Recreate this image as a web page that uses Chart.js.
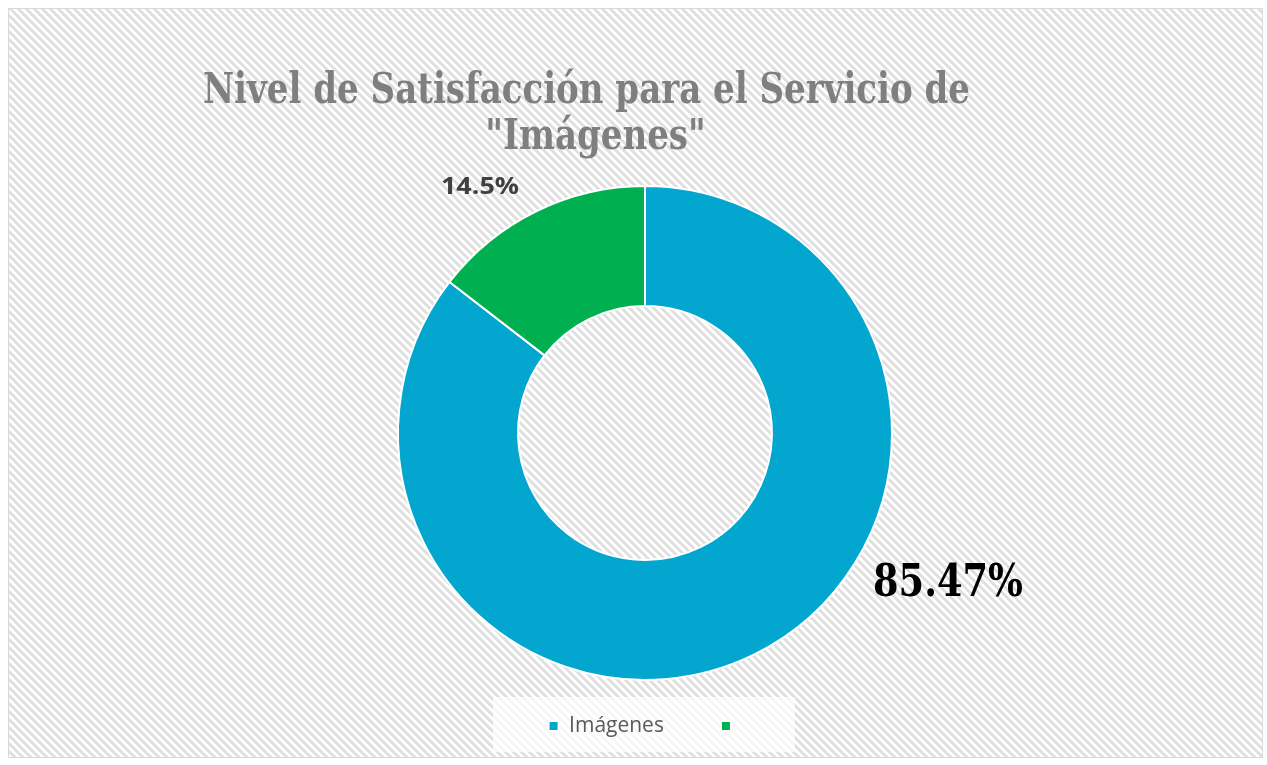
<!DOCTYPE html>
<html>
<head>
<meta charset="utf-8">
<script src="https://cdn.jsdelivr.net/npm/chart.js@4.4.1/dist/chart.umd.min.js"></script>
<style>
html,body{margin:0;padding:0;background:#fff;overflow:hidden}
#wrap{width:1267px;height:765px;position:relative}
canvas{display:block}
</style>
</head>
<body>
<div id="wrap"><canvas id="c" width="1267" height="765"></canvas></div>
<script>
// ---- data ----
const categories = ['Imágenes', ''];
const values = [85.47, 14.53];
const valueLabels = ['85.47%', '14.5%'];
const sliceColors = ['#02A6CF', '#00B050'];
const titleLines = ['Nivel de Satisfacción para el Servicio de', '"Imágenes"'];

// ---- helpers ----
function makePattern(ctx) {
  const t = document.createElement('canvas');
  t.width = 8; t.height = 8;
  const g = t.getContext('2d');
  g.fillStyle = '#ffffff'; g.fillRect(0, 0, 8, 8);
  g.fillStyle = '#e0e0e0';
  for (let y = 0; y < 8; y++) for (let x = 0; x < 8; x++) {
    if (((x - y + 64) % 8) < 4) g.fillRect(x, y, 1, 1);
  }
  return ctx.createPattern(t, 'repeat');
}
function drawScaled(ctx, text, cx, by, font, color, sx) {
  ctx.save();
  ctx.font = font; ctx.fillStyle = color;
  ctx.textAlign = 'center'; ctx.textBaseline = 'alphabetic';
  ctx.translate(cx, by); ctx.scale(sx, 1);
  ctx.fillText(text, 0, 0);
  ctx.restore();
}
function fitScale(ctx, text, font, width) {
  ctx.save(); ctx.font = font;
  const w = ctx.measureText(text).width;
  ctx.restore();
  return width / w;
}

const backgroundPlugin = {
  id: 'bgPattern',
  beforeDraw(chart) {
    const ctx = chart.ctx;
    ctx.save();
    ctx.fillStyle = '#ffffff';
    ctx.fillRect(0, 0, chart.width, chart.height);
    ctx.fillStyle = makePattern(ctx);
    ctx.fillRect(9, 9, 1253, 748);
    ctx.strokeStyle = '#d9d9d9';
    ctx.lineWidth = 1;
    ctx.strokeRect(8.5, 8.5, 1254, 749);
    // legend backdrop
    ctx.fillStyle = 'rgba(255,255,255,0.72)';
    ctx.fillRect(493, 697, 302, 55);
    ctx.restore();
  }
};

const titlePlugin = {
  id: 'customTitle',
  afterDraw(chart) {
    const ctx = chart.ctx;
    const font = 'bold 43px "DejaVu Serif"';
    const s = fitScale(ctx, titleLines[0], font, 767);
    drawScaled(ctx, titleLines[0], 586.5, 103, font, '#7f7f7f', s);
    drawScaled(ctx, titleLines[1], 595.5, 149, font, '#7f7f7f', s);
  }
};

const sliceLabelPlugin = {
  id: 'sliceLabels',
  afterDatasetsDraw(chart, args, opts) {
    const ctx = chart.ctx;
    const meta = chart.getDatasetMeta(0);
    meta.data.forEach((arc, i) => {
      const o = opts.items[i];
      const s = fitScale(ctx, valueLabels[i], o.font, o.width);
      drawScaled(ctx, valueLabels[i], arc.x + o.dx, arc.y + o.dy, o.font, o.color, s);
    });
  }
};

new Chart(document.getElementById('c'), {
  type: 'doughnut',
  data: {
    labels: categories,
    datasets: [{
      data: values,
      backgroundColor: sliceColors,
      borderColor: '#ffffff',
      borderWidth: 2,
      clip: false
    }]
  },
  options: {
    responsive: false,
    animation: false,
    events: [],
    radius: 247,
    cutout: '51.4%',
    layout: { padding: { left: 23, right: 0, top: 207.5, bottom: 18.5 } },
    plugins: {
      title: { display: false },
      tooltip: { enabled: false },
      legend: {
        position: 'bottom',
        labels: {
          boxWidth: 10,
          boxHeight: 10,
          padding: 57,
          color: '#595959',
          font: { family: '"Open Sans"', size: 21 }
        }
      },
      sliceLabels: {
        items: [
          { dx: 303, dy: 163, font: 'bold 45px "DejaVu Serif"', width: 150, color: '#000000' },
          { dx: -165, dy: -239, font: 'bold 24px "Open Sans"', width: 78, color: '#404040' }
        ]
      }
    }
  },
  plugins: [backgroundPlugin, titlePlugin, sliceLabelPlugin]
});
</script>
</body>
</html>
